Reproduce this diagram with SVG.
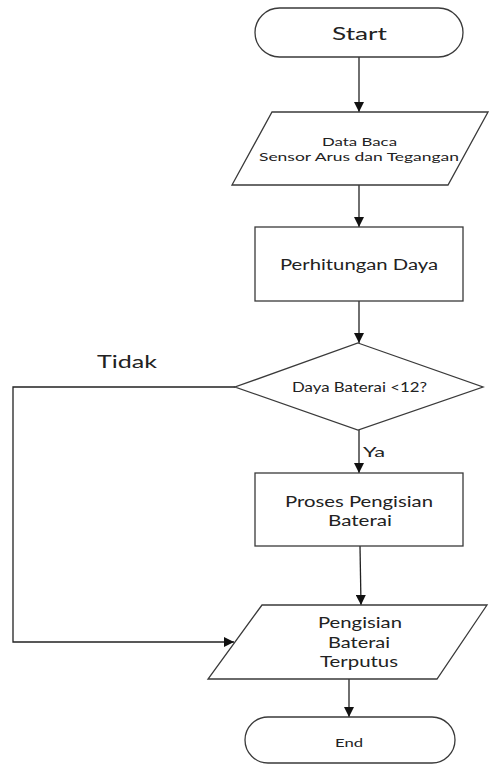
<svg xmlns="http://www.w3.org/2000/svg" width="489" height="765" viewBox="0 0 489 765">
<style>
.shape{fill:#fff;stroke:#3a3a3a;stroke-width:1.3}
.edge{fill:none;stroke:#222;stroke-width:1.3}
text{font-family:Lato,"Open Sans","Liberation Sans",sans-serif;fill:#222;text-anchor:middle}
</style>
<defs>
<marker id="arr" markerWidth="10" markerHeight="10" refX="10" refY="5" orient="auto" markerUnits="userSpaceOnUse" viewBox="0 0 10 10">
<path d="M0,0 L10,5 L0,10 Z" fill="#111"/>
</marker>
</defs>
<rect width="489" height="765" fill="#fff"/>
<g id="connectors">
<line class="edge" x1="359" y1="57" x2="359" y2="112" marker-end="url(#arr)"/>
<line class="edge" x1="359" y1="185" x2="359" y2="227" marker-end="url(#arr)"/>
<line class="edge" x1="359" y1="301" x2="359" y2="343" marker-end="url(#arr)"/>
<line class="edge" x1="359" y1="430" x2="359" y2="473" marker-end="url(#arr)"/>
<line class="edge" x1="360" y1="546" x2="361" y2="605" marker-end="url(#arr)"/>
<line class="edge" x1="349" y1="679" x2="349" y2="717" marker-end="url(#arr)"/>
<polyline class="edge" points="235,387 13,387 13,642 234,642" marker-end="url(#arr)"/>
<text x="127" y="368" font-size="17" textLength="60" lengthAdjust="spacingAndGlyphs">Tidak</text>
<text x="374" y="457" font-size="14" textLength="22" lengthAdjust="spacingAndGlyphs">Ya</text>
</g>
<g id="start">
<rect class="shape" x="255" y="8" width="208" height="49" rx="24.5" ry="24.5"/>
<text x="359.5" y="39.5" font-size="18" textLength="55" lengthAdjust="spacingAndGlyphs">Start</text>
</g>
<g id="data-baca">
<polygon class="shape" points="272,112 488,112 448,185 232,185"/>
<text x="359.5" y="146" font-size="12" textLength="75" lengthAdjust="spacingAndGlyphs">Data Baca</text>
<text x="359" y="161" font-size="12" textLength="200" lengthAdjust="spacingAndGlyphs">Sensor Arus dan Tegangan</text>
</g>
<g id="perhitungan">
<rect class="shape" x="255" y="227" width="208" height="74"/>
<text x="359" y="270" font-size="15.5" textLength="158" lengthAdjust="spacingAndGlyphs">Perhitungan Daya</text>
</g>
<g id="decision">
<polygon class="shape" points="358,343 483,387 358,430 235,387"/>
<text x="359.5" y="392" font-size="13.5" textLength="135" lengthAdjust="spacingAndGlyphs">Daya Baterai &lt;12?</text>
</g>
<g id="proses">
<rect class="shape" x="255" y="473" width="208" height="73"/>
<text x="359" y="507" font-size="16" textLength="148" lengthAdjust="spacingAndGlyphs">Proses Pengisian</text>
<text x="360" y="526" font-size="16" textLength="64" lengthAdjust="spacingAndGlyphs">Baterai</text>
</g>
<g id="terputus">
<polygon class="shape" points="262,605 487,605 437,679 208,679"/>
<text x="360" y="628" font-size="15" textLength="84" lengthAdjust="spacingAndGlyphs">Pengisian</text>
<text x="359" y="648" font-size="15" textLength="62" lengthAdjust="spacingAndGlyphs">Baterai</text>
<text x="359" y="667" font-size="15" textLength="78" lengthAdjust="spacingAndGlyphs">Terputus</text>
</g>
<g id="end">
<rect class="shape" x="245" y="717" width="210" height="46" rx="23" ry="23"/>
<text x="349" y="747" font-size="12" textLength="28" lengthAdjust="spacingAndGlyphs">End</text>
</g>
</svg>
